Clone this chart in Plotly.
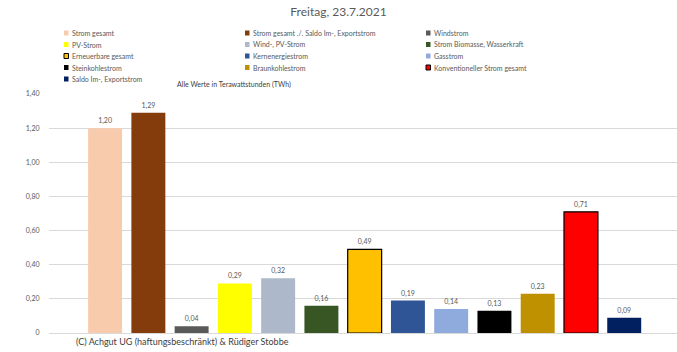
import plotly.graph_objects as go

categories = [
    "Strom gesamt",
    "Strom gesamt ./. Saldo Im-, Exportstrom",
    "Windstrom",
    "PV-Strom",
    "Wind-, PV-Strom",
    "Strom Biomasse, Wasserkraft",
    "Erneuerbare gesamt",
    "Kernenergiestrom",
    "Gasstrom",
    "Steinkohlestrom",
    "Braunkohlestrom",
    "Konventioneller Strom gesamt",
    "Saldo Im-, Exportstrom",
]
values = [1.20, 1.29, 0.04, 0.29, 0.32, 0.16, 0.49, 0.19, 0.14, 0.13, 0.23, 0.71, 0.09]
colors = ["#F8CBAD", "#843C0C", "#595959", "#FFFF00", "#ADB9CA", "#375623",
          "#FFC000", "#2F5597", "#8FAADC", "#000000", "#BF9000", "#FF0000", "#002060"]
outlined = [False, False, False, False, False, False, True, False, False, False, False, True, False]

tick_vals = [0, 0.2, 0.4, 0.6, 0.8, 1.0, 1.2, 1.4]
tick_text = ["0", "0,20", "0,40", "0,60", "0,80", "1,00", "1,20", "1,40"]

title_text = "Freitag, 23.7.2021"
subtitle_text = "Alle Werte in Terawattstunden (TWh)"
footer_text = "(C) Achgut UG (haftungsbeschränkt) & Rüdiger Stobbe"

FONT = "Lato"
W, H = 677, 352
ML, MR, MT, MB = 49, 0, 94, 19
PW, PH = W - ML - MR, H - MT - MB

def px(x):
    return (x - ML) / PW

def py(y):
    return (H - MB - y) / PH

fig = go.Figure()
fig.add_trace(go.Bar(
    x=categories,
    y=values,
    marker=dict(
        color=colors,
        line=dict(color=["#000000" if o else "rgba(0,0,0,0)" for o in outlined],
                  width=[1.2 if o else 0 for o in outlined]),
    ),
    texttemplate="%{y:.2f}",
    textposition="outside",
    textfont=dict(family=FONT, size=7, color="#595959"),
    cliponaxis=False,
    showlegend=False,
    hoverinfo="x+y",
))

shapes = []
annotations = []
# manual legend grid (3 columns)
col_sq = [64, 245, 426]
row_y = [33, 44.5, 56, 67.5, 79]
for i, (name, c, o) in enumerate(zip(categories, colors, outlined)):
    col, row = i % 3, i // 3
    x0 = col_sq[col]
    yc = row_y[row]
    shapes.append(dict(
        type="rect", xref="paper", yref="paper",
        x0=px(x0), x1=px(x0 + 4.5), y0=py(yc + 2.5), y1=py(yc - 2.5),
        fillcolor=c, line=dict(color="#000000" if o else c, width=1 if o else 0),
        layer="above",
    ))
    annotations.append(dict(
        xref="paper", yref="paper", x=px(x0 + 6), y=py(yc),
        xanchor="left", yanchor="middle", showarrow=False,
        text=name, font=dict(family=FONT, size=7, color="#595959"),
    ))

annotations.append(dict(
    xref="paper", yref="paper", x=px(175), y=py(84), xanchor="left", yanchor="middle",
    showarrow=False, text=subtitle_text, font=dict(family=FONT, size=7, color="#404040"),
))
annotations.append(dict(
    xref="paper", yref="paper", x=px(74), y=py(341), xanchor="left", yanchor="middle",
    showarrow=False, text=footer_text, font=dict(family=FONT, size=9, color="#404040"),
))

fig.update_layout(
    width=W, height=H,
    margin=dict(l=ML, r=MR, t=MT, b=MB, pad=0),
    paper_bgcolor="white", plot_bgcolor="white",
    separators=",.",
    title=dict(text=title_text, x=0.5, xanchor="center", xref="container",
               y=1 - 12 / H, yanchor="middle", yref="container",
               font=dict(family=FONT, size=12, color="#595959")),
    bargap=0.215,
    showlegend=False,
    xaxis=dict(range=[-1.297, 13.22], showticklabels=False, showgrid=False,
               zeroline=False, showline=False, ticks=""),
    yaxis=dict(range=[0, 1.4], tickvals=tick_vals, ticktext=tick_text,
               showgrid=True, gridcolor="#D9D9D9", gridwidth=1,
               zeroline=True, zerolinecolor="#D9D9D9", zerolinewidth=1,
               showline=False, ticks="outside", ticklen=7, tickcolor="rgba(0,0,0,0)",
               tickfont=dict(family=FONT, size=7, color="#595959")),
    shapes=shapes,
    annotations=annotations,
    font=dict(family=FONT),
)

fig.write_html("out.html")
